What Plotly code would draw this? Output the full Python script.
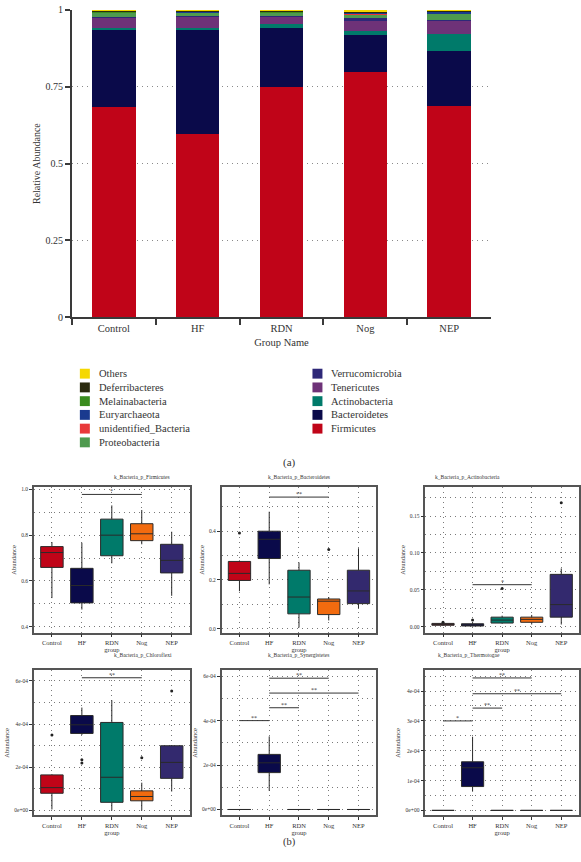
import plotly.graph_objects as go

W, H = 581, 862
FONT = "Liberation Serif"
TXT = "#333333"
DOT = "1px,4px"

# ---------------- (a) stacked relative abundance ----------------
groups = ["Control", "HF", "RDN", "Nog", "NEP"]
group_colors = ["#C00418", "#0A0A4A", "#007A6A", "#F26B0F", "#33296E"]

phyla = ["Firmicutes", "Bacteroidetes", "Actinobacteria", "Tenericutes", "Verrucomicrobia",
         "Proteobacteria", "unidentified_Bacteria", "Euryarchaeota", "Melainabacteria",
         "Deferribacteres", "Others"]
phylum_colors = ["#C00418", "#0A0A4A", "#007A6A", "#6E3278", "#2E2878",
                 "#4E9A4E", "#E8393A", "#1A3A8F", "#3A8C1E", "#2B2B0E", "#F5D800"]

firmicutes = [0.685, 0.595, 0.750, 0.797, 0.686]
bacteroidetes = [0.251, 0.341, 0.190, 0.120, 0.182]
actinobacteria = [0.005, 0.004, 0.013, 0.013, 0.055]
tenericutes = [0.034, 0.039, 0.025, 0.034, 0.042]
verrucomicrobia = [0.001, 0.001, 0.001, 0.009, 0.002]
proteobacteria = [0.015, 0.012, 0.012, 0.011, 0.021]
unidentified_bacteria = [0.001, 0.001, 0.001, 0.003, 0.001]
euryarchaeota = [0.001, 0.001, 0.001, 0.004, 0.006]
melainabacteria = [0.001, 0.001, 0.001, 0.001, 0.001]
deferribacteres = [0.003, 0.002, 0.003, 0.004, 0.001]
others = [0.003, 0.003, 0.003, 0.004, 0.003]
stack_values = [firmicutes, bacteroidetes, actinobacteria, tenericutes, verrucomicrobia,
                proteobacteria, unidentified_bacteria, euryarchaeota, melainabacteria,
                deferribacteres, others]

rel_ticks = [0, 0.25, 0.5, 0.75, 1]
rel_ticktext = ["0", "0.25", "0.5", "0.75", "1"]

# ---------------- (b) box plot statistics ----------------
fir_lo = [0.525, 0.475, 0.677, 0.760, 0.535]
fir_q1 = [0.659, 0.504, 0.710, 0.776, 0.635]
fir_med = [0.724, 0.580, 0.800, 0.806, 0.690]
fir_q3 = [0.750, 0.655, 0.870, 0.850, 0.760]
fir_hi = [0.770, 0.767, 0.930, 0.910, 0.815]
fir_out_grp, fir_out_val = [], []
fir_sig = [("HF", "Nog", 0.978, "*")]

bac_lo = [0.154, 0.182, 0.005, 0.034, 0.082]
bac_q1 = [0.198, 0.288, 0.061, 0.058, 0.103]
bac_med = [0.227, 0.367, 0.130, 0.113, 0.155]
bac_q3 = [0.276, 0.400, 0.240, 0.122, 0.240]
bac_hi = [0.280, 0.480, 0.272, 0.130, 0.330]
bac_out_grp = ["Control", "Nog"]
bac_out_val = [0.393, 0.325]
bac_sig = [("HF", "Nog", 0.540, "**")]

act_lo = [0.001, 0.0005, 0.004, 0.003, 0.003]
act_q1 = [0.002, 0.001, 0.005, 0.006, 0.013]
act_med = [0.003, 0.002, 0.009, 0.010, 0.030]
act_q3 = [0.0045, 0.004, 0.013, 0.013, 0.071]
act_hi = [0.005, 0.006, 0.015, 0.016, 0.079]
act_out_grp = ["Control", "HF", "RDN", "NEP"]
act_out_val = [0.006, 0.009, 0.052, 0.168]
act_sig = [("HF", "Nog", 0.057, "*")]

chl_lo = [0.05e-4, 3.50e-4, 0.0, 0.0, 0.88e-4]
chl_q1 = [0.80e-4, 3.57e-4, 0.38e-4, 0.45e-4, 1.49e-4]
chl_med = [1.06e-4, 3.97e-4, 1.54e-4, 0.65e-4, 2.23e-4]
chl_q3 = [1.65e-4, 4.40e-4, 4.08e-4, 0.91e-4, 3.00e-4]
chl_hi = [1.68e-4, 4.77e-4, 5.11e-4, 1.29e-4, 3.03e-4]
chl_out_grp = ["Control", "HF", "HF", "Nog", "NEP"]
chl_out_val = [3.50e-4, 2.35e-4, 2.20e-4, 2.45e-4, 5.54e-4]
chl_sig = [("HF", "Nog", 6.15e-4, "**")]

syn_lo = [0.0, 0.84e-4, 0.0, 0.0, 0.0]
syn_q1 = [0.0, 1.66e-4, 0.0, 0.0, 0.0]
syn_med = [0.0, 2.10e-4, 0.0, 0.0, 0.0]
syn_q3 = [0.0, 2.48e-4, 0.0, 0.0, 0.0]
syn_hi = [0.0, 3.29e-4, 0.0, 0.0, 0.0]
syn_out_grp, syn_out_val = [], []
syn_sig = [("Control", "HF", 4.00e-4, "**"), ("HF", "RDN", 4.58e-4, "**"),
           ("HF", "NEP", 5.24e-4, "**"), ("HF", "Nog", 5.91e-4, "**")]

the_lo = [0.0, 0.63e-4, 0.0, 0.0, 0.0]
the_q1 = [0.0, 0.80e-4, 0.0, 0.0, 0.0]
the_med = [0.0, 1.43e-4, 0.0, 0.0, 0.0]
the_q3 = [0.0, 1.63e-4, 0.0, 0.0, 0.0]
the_hi = [0.0, 2.47e-4, 0.0, 0.0, 0.0]
the_out_grp, the_out_val = [], []
the_sig = [("Control", "HF", 3.00e-4, "*"), ("HF", "RDN", 3.43e-4, "**"),
           ("HF", "NEP", 3.91e-4, "**"), ("HF", "Nog", 4.44e-4, "**")]

panel_titles = ["k_Bacteria_p_Firmicutes", "k_Bacteria_p_Bacteroidetes", "k_Bacteria_p_Actinobacteria",
                "k_Bacteria_p_Chloroflexi", "k_Bacteria_p_Synergistetes", "k_Bacteria_p_Thermotogae"]
panel_ranges = [[0.374, 1.009], [-0.016, 0.58], [-0.008, 0.189],
                [-0.23e-4, 6.5e-4], [-0.27e-4, 6.27e-4], [-0.17e-4, 4.7e-4]]
panel_tickvals = [[0.4, 0.6, 0.8, 1.0], [0.0, 0.2, 0.4], [0.0, 0.05, 0.10, 0.15],
                  [0, 2e-4, 4e-4, 6e-4], [0, 2e-4, 4e-4, 6e-4], [0, 1e-4, 2e-4, 3e-4, 4e-4]]
panel_ticktext = [["0.4", "0.6", "0.8", "1.0"], ["0.0", "0.2", "0.4"], ["0.00", "0.05", "0.10", "0.15"],
                  ["0e+00", "2e-04", "4e-04", "6e-04"], ["0e+00", "2e-04", "4e-04", "6e-04"],
                  ["0e+00", "1e-04", "2e-04", "3e-04", "4e-04"]]
panel_minor = [0.1, 0.1, 0.025, 1e-4, 1e-4, 0.5e-4]

panels = [
    (fir_lo, fir_q1, fir_med, fir_q3, fir_hi, fir_out_grp, fir_out_val, fir_sig),
    (bac_lo, bac_q1, bac_med, bac_q3, bac_hi, bac_out_grp, bac_out_val, bac_sig),
    (act_lo, act_q1, act_med, act_q3, act_hi, act_out_grp, act_out_val, act_sig),
    (chl_lo, chl_q1, chl_med, chl_q3, chl_hi, chl_out_grp, chl_out_val, chl_sig),
    (syn_lo, syn_q1, syn_med, syn_q3, syn_hi, syn_out_grp, syn_out_val, syn_sig),
    (the_lo, the_q1, the_med, the_q3, the_hi, the_out_grp, the_out_val, the_sig),
]

# ---------------- layout helpers ----------------
def xdom(x0, x1):
    return [x0 / W, x1 / W]

def ydom(y0, y1):  # pixel top, pixel bottom
    return [1 - y1 / H, 1 - y0 / H]

fig = go.Figure()

# (a) bars
for name, color, vals in zip(phyla, phylum_colors, stack_values):
    fig.add_trace(go.Bar(x=groups, y=vals, name=name, marker=dict(color=color, line=dict(width=0)),
                         width=0.52, xaxis="x", yaxis="y", showlegend=False))

layout = dict(
    width=W, height=H, margin=dict(l=0, r=0, t=0, b=0),
    paper_bgcolor="white", plot_bgcolor="white",
    font=dict(family=FONT, color=TXT),
    barmode="stack", boxmode="overlay",
    xaxis=dict(domain=xdom(72, 492), anchor="y", type="category", categoryorder="array",
               categoryarray=groups, range=[-0.5, 4.5], showline=True, linecolor="#3a3a3a",
               linewidth=2, ticks="outside", tickson="boundaries", ticklen=6, tickwidth=1.5,
               tickcolor="#3a3a3a", tickfont=dict(size=10.5, family=FONT, color=TXT),
               showgrid=False, zeroline=False,
               title=dict(text="Group Name", font=dict(size=10.5, family=FONT, color=TXT), standoff=6)),
    yaxis=dict(domain=ydom(5, 316), anchor="x", range=[0, 1], tickvals=rel_ticks,
               ticktext=rel_ticktext, showline=True, linecolor="#3a3a3a", linewidth=2,
               ticks="outside", ticklen=5, tickwidth=1.5, tickcolor="#3a3a3a",
               tickfont=dict(size=10, family=FONT, color=TXT),
               showgrid=True, gridcolor="#8a8a8a", griddash=DOT, gridwidth=1, zeroline=False,
               title=dict(text="Relative Abundance", font=dict(size=10, family=FONT, color=TXT), standoff=3)),
)

panel_x = [(34, 190), (222, 377), (426, 580)]
panel_y = [(488, 635), (673, 820)]
annotations = []

for k, (stats, title, rng, tv, tt, mn) in enumerate(zip(panels, panel_titles, panel_ranges,
                                                       panel_tickvals, panel_ticktext, panel_minor)):
    idx = k + 2
    xa, ya = f"x{idx}", f"y{idx}"
    col, row = k % 3, k // 3
    x0, x1 = panel_x[col]
    y0, y1 = panel_y[row]
    lo, q1, med, q3, hi, og, ov, sig = stats
    for i, g in enumerate(groups):
        fig.add_trace(go.Box(x=[g], q1=[q1[i]], median=[med[i]], q3=[q3[i]],
                             lowerfence=[lo[i]], upperfence=[hi[i]],
                             fillcolor=group_colors[i], line=dict(color="#2a2a2a", width=1),
                             whiskerwidth=0, width=0.75, boxpoints=False,
                             xaxis=xa, yaxis=ya, showlegend=False, hoverinfo="skip"))
    if og:
        fig.add_trace(go.Scatter(x=og, y=ov, mode="markers",
                                 marker=dict(color="#222222", size=3),
                                 xaxis=xa, yaxis=ya, showlegend=False, hoverinfo="skip"))
    for (ga, gb, hy, lab) in sig:
        fig.add_trace(go.Scatter(x=[ga, gb], y=[hy, hy], mode="lines",
                                 line=dict(color="#333333", width=1),
                                 xaxis=xa, yaxis=ya, showlegend=False, hoverinfo="skip"))
        annotations.append(dict(x=(groups.index(ga) + groups.index(gb)) / 2, y=hy, xref=xa, yref=ya,
                                text=lab, showarrow=False, yanchor="bottom", yshift=-2,
                                font=dict(size=6, family=FONT, color=TXT)))
    layout[f"xaxis{idx}"] = dict(
        domain=xdom(x0, x1), anchor=ya, type="category", categoryorder="array",
        categoryarray=groups, range=[-0.6, 4.6], showline=True, mirror=True,
        linecolor="#555555", linewidth=1.5, ticks="outside", ticklen=3, tickcolor="#333333",
        tickfont=dict(size=6.5, family=FONT, color=TXT), showgrid=True, gridcolor="#7a7a7a",
        griddash=DOT, gridwidth=1, zeroline=False,
        title=dict(text="group", font=dict(size=6.5, family=FONT, color=TXT), standoff=2))
    layout[f"yaxis{idx}"] = dict(
        domain=ydom(y0, y1), anchor=xa, range=rng, tickvals=tv, ticktext=tt,
        showline=True, mirror=True, linecolor="#555555", linewidth=1.5, ticks="outside",
        ticklen=3, tickcolor="#333333", tickfont=dict(size=5.5, family=FONT, color=TXT),
        showgrid=True, gridcolor="#7a7a7a", griddash=DOT, gridwidth=1, zeroline=False,
        minor=dict(tickmode="linear", tick0=0, dtick=mn, showgrid=True, gridcolor="#7a7a7a",
                   griddash=DOT, gridwidth=1, ticks=""),
        title=dict(text="Abundance", font=dict(size=6.5, family=FONT, color=TXT), standoff=4))
    annotations.append(dict(x=(x0 + x1) / 2 / W, y=1 - (y0 - 10) / H, xref="paper", yref="paper",
                            text=title, showarrow=False, font=dict(size=5.5, family=FONT, color=TXT)))

# legend for (a), two columns (reverse stacking order)
legend_order = list(reversed(range(len(phyla))))
shapes = []
for j, pi in enumerate(legend_order):
    col = 0 if j < 6 else 1
    row = j if j < 6 else j - 6
    sx = 80 if col == 0 else 313
    cy = 373 + row * 13.9
    shapes.append(dict(type="rect", xref="paper", yref="paper",
                       x0=sx / W, x1=(sx + 10) / W, y0=1 - (cy + 5) / H, y1=1 - (cy - 5) / H,
                       fillcolor=phylum_colors[pi], line=dict(width=0)))
    annotations.append(dict(x=(sx + 17) / W, y=1 - cy / H, xref="paper", yref="paper",
                            text=phyla[pi], showarrow=False, xanchor="left", yanchor="middle",
                            font=dict(size=10.5, family=FONT, color=TXT)))

annotations.append(dict(x=290 / W, y=1 - 463 / H, xref="paper", yref="paper", text="(a)",
                        showarrow=False, font=dict(size=11, family=FONT, color=TXT)))
annotations.append(dict(x=290 / W, y=1 - 855 / H, xref="paper", yref="paper", text="(b)",
                        showarrow=False, font=dict(size=10.5, family=FONT, color=TXT)))

layout["annotations"] = annotations
layout["shapes"] = shapes
fig.update_layout(**layout)
fig.write_html("out.html", config={"displayModeBar": False},
               post_script="document.body.style.margin='0';document.body.style.overflow='hidden';")
